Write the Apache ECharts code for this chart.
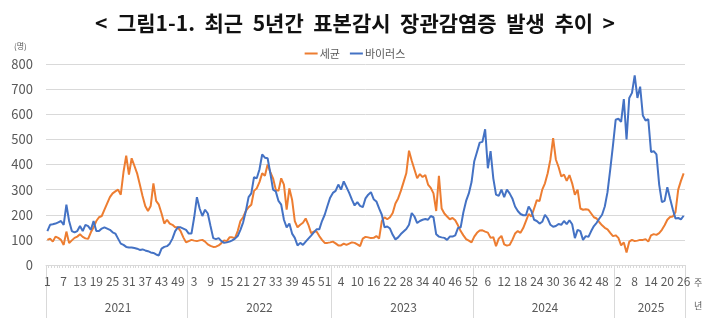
<!DOCTYPE html>
<html><head><meta charset="utf-8">
<script src="https://cdn.jsdelivr.net/npm/echarts@6/dist/echarts.min.js"></script>
<style>html,body{margin:0;padding:0;background:#fff}#c{width:710px;height:324px}</style>
</head><body><div id="c"></div>
<script>
// ---- data ----
const years = ['2021', '2022', '2023', '2024', '2025'];
const weeksPerYear = [52, 53, 52, 52, 26];
const seriesNames = ['세균', '바이러스'];

const bac2021 = [100,105,93,113,108,100,80,133,87,98,108,113,122,112,106,104,130,150,175,190,195,220,245,270,285,293,300,280,370,435,360,425,395,365,320,275,235,215,235,325,255,240,205,165,180,165,160,150,150,135,110,90];
const bac2022 = [95,100,97,95,98,100,93,82,76,72,73,78,87,98,95,110,110,107,135,175,190,215,230,240,295,305,330,365,355,400,370,345,300,295,345,320,220,305,260,175,150,160,168,185,160,127,133,133,115,100,88,88,90];
const bac2023 = [93,86,78,78,85,80,85,90,88,82,75,105,112,110,107,108,115,105,175,190,182,190,207,245,265,295,330,365,455,415,380,345,362,350,358,320,307,285,215,355,225,205,193,182,187,178,158,135,118,103,97,90];
const bac2024 = [113,128,137,138,133,129,108,111,75,105,116,82,77,80,100,125,135,128,147,175,203,193,225,258,255,300,325,365,420,505,420,390,352,360,335,358,325,280,300,225,220,222,220,205,190,185,170,158,148,142,128,115];
const bac2025 = [118,108,78,90,50,93,100,95,97,100,100,103,93,118,123,120,127,140,158,180,191,193,210,300,335,365];

const vir2021 = [135,160,162,165,170,175,160,240,175,135,130,135,155,135,160,155,140,175,135,135,145,150,145,140,130,125,105,85,80,72,70,70,68,65,60,62,58,55,50,48,42,38,65,72,75,85,105,135,150,150,145,140];
const vir2022 = [125,125,190,270,225,195,220,205,155,107,103,107,95,88,90,93,98,105,115,140,170,215,270,285,350,345,380,440,427,425,365,300,293,255,240,180,150,165,125,108,78,88,80,93,105,117,130,142,142,175,200,235,268];
const vir2023 = [287,295,320,300,333,310,287,260,237,250,235,230,265,280,290,262,253,225,200,150,153,145,120,102,110,123,133,143,160,207,193,167,175,180,183,180,195,190,122,113,110,108,100,113,113,118,147,150,210,255,285,330];
const vir2024 = [413,450,487,490,540,385,453,345,280,275,300,270,300,285,265,233,215,203,198,198,233,215,180,175,165,172,200,185,160,152,155,163,160,175,163,178,162,107,140,135,100,115,112,135,155,168,185,200,233,290,380,475];
const vir2025 = [578,582,570,660,500,665,685,755,665,710,595,575,580,450,453,440,320,250,255,310,265,222,185,187,182,196];

const yMin = 0, yMax = 800, yStep = 100;

// ---- build ----
const bacteria = [].concat(bac2021, bac2022, bac2023, bac2024, bac2025);
const virus = [].concat(vir2021, vir2022, vir2023, vir2024, vir2025);

const weekCats = [];      // unique keys "year-week"
const yearStarts = new Set();
const yearMids = new Set();
let idx = 0;
years.forEach((y, k) => {
  yearStarts.add(idx);
  yearMids.add(idx + Math.floor(weeksPerYear[k] / 2));
  for (let w = 1; w <= weeksPerYear[k]; w++) { weekCats.push(y + '-' + w); idx++; }
});
const total = idx;

const FONT = "'Noto Sans CJK KR', 'Noto Sans', sans-serif";
const GRID = '#d9d9d9';
const TXT = '#595959';

const chart = echarts.init(document.getElementById('c'), null, {renderer: 'canvas'});
chart.setOption({
  animation: false,
  textStyle: {fontFamily: FONT},
  title: {
    text: '<  그림1-1.  최근  5년간  표본감시  장관감염증  발생  추이  >',
    left: 'center', top: 8,
    textStyle: {fontSize: 21, fontWeight: 'bold', color: '#111', fontFamily: FONT}
  },
  legend: {
    data: seriesNames,
    top: 43, left: 'center',
    icon: 'rect', itemWidth: 13, itemHeight: 2, itemGap: 10,
    textStyle: {fontSize: 11, color: TXT, padding: [0, 0, 0, -3]}
  },
  grid: {left: 46, right: 25, top: 64, bottom: 59, containLabel: false},
  xAxis: [
    {
      type: 'category', data: weekCats, boundaryGap: true,
      axisLine: {lineStyle: {color: GRID}},
      axisTick: {show: true, interval: 0, length: 3, lineStyle: {color: GRID}},
      axisLabel: {
        interval: 5, margin: 10, fontSize: 12, color: TXT, showMaxLabel: true,
        formatter: v => v.split('-')[1]
      }
    },
    {
      type: 'category', data: weekCats, boundaryGap: true, position: 'bottom',
      axisLine: {show: false},
      axisTick: {show: true, length: 53, interval: (i) => yearStarts.has(i), lineStyle: {color: GRID}},
      axisLabel: {
        interval: (i) => yearMids.has(i), margin: 36, fontSize: 12, color: TXT,
        formatter: v => v.split('-')[0]
      }
    },
    {
      type: 'value', min: 0, max: total, interval: total, position: 'bottom',
      axisLine: {show: false}, axisLabel: {show: false}, splitLine: {show: false},
      axisTick: {show: true, length: 53, lineStyle: {color: GRID}}
    }
  ],
  yAxis: {
    type: 'value', min: yMin, max: yMax, interval: yStep,
    axisLine: {show: false}, axisTick: {show: false},
    axisLabel: {fontSize: 13, color: TXT, margin: 13},
    splitLine: {lineStyle: {color: GRID}}
  },
  series: [
    {name: seriesNames[0], type: 'line', data: bacteria, symbol: 'none', xAxisIndex: 0,
     lineStyle: {width: 2, color: '#ED7D31'}, itemStyle: {color: '#ED7D31'}},
    {name: seriesNames[1], type: 'line', data: virus, symbol: 'none', xAxisIndex: 0,
     lineStyle: {width: 2, color: '#4472C4'}, itemStyle: {color: '#4472C4'}}
  ],
  graphic: [
    {type: 'text', left: 14, top: 42, style: {text: '(명)', fontSize: 8, fill: TXT, fontFamily: FONT}},
    {type: 'text', left: 694, top: 278, style: {text: '주', fontSize: 9, fill: TXT, fontFamily: FONT}},
    {type: 'text', left: 694, top: 301, style: {text: '년', fontSize: 9, fill: TXT, fontFamily: FONT}}
  ]
});
</script></body></html>
